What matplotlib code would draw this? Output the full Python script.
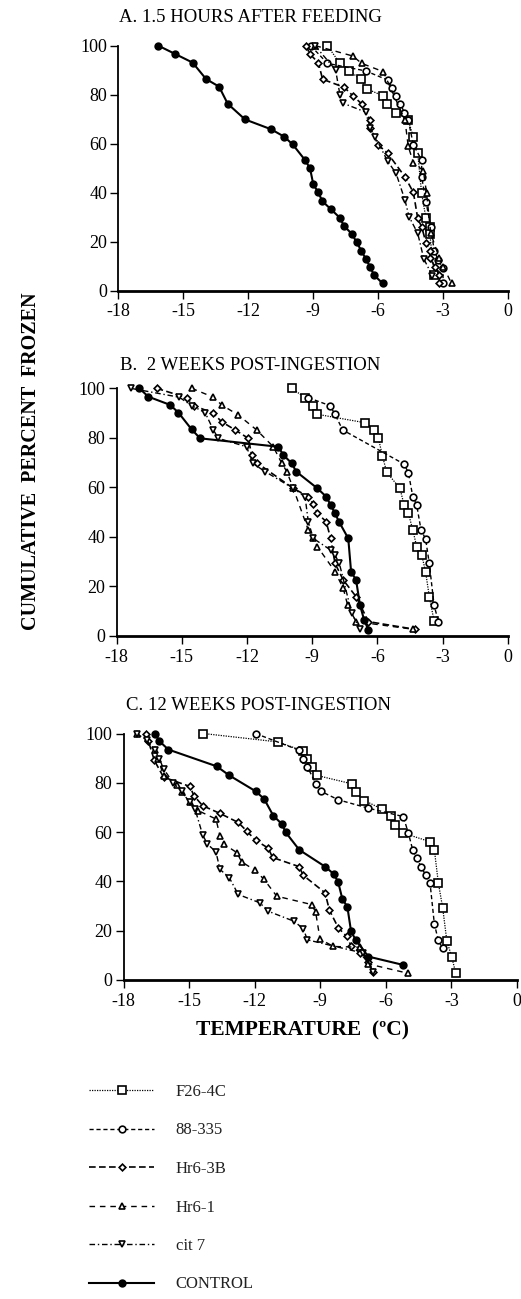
import matplotlib

matplotlib.use("Agg")
import matplotlib.pyplot as plt

plt.rcParams["font.family"] = ["Liberation Serif", "DejaVu Serif"]
plt.rcParams["axes.unicode_minus"] = False

# ---- panel A: 1.5 hours after feeding (temperature degC, cumulative % frozen)
a_f26_t = [-8.35, -7.77, -7.35, -6.8, -6.54, -5.77, -5.58, -5.18, -4.62, -4.38, -4.18, -4.0, -3.8, -3.62, -3.62, -3.42]
a_f26_p = [100, 92.8, 89.7, 86.3, 82.4, 79.5, 76.2, 72.7, 69.7, 62.6, 56.1, 39.7, 29.5, 26.1, 23.1, 6.4]
a_88_t = [-9.12, -8.35, -6.58, -5.57, -5.35, -5.18, -4.98, -4.8, -4.62, -4.38, -4.0, -4.0, -3.8, -3.58, -3.42, -3.23, -3.03, -3.0]
a_88_p = [100, 92.8, 89.7, 86.0, 82.6, 79.5, 76.3, 72.7, 69.7, 59.5, 53.3, 46.5, 36.3, 26.1, 16.3, 12.5, 9.1, 3.0]
a_hr3b_t = [-9.34, -9.15, -8.77, -8.57, -7.57, -7.18, -6.77, -6.38, -6.38, -6.0, -5.57, -4.77, -4.38, -4.18, -4.0, -3.8, -3.62, -3.62, -3.38, -3.18, -3.18]
a_hr3b_p = [100, 96.5, 93.1, 86.3, 83.0, 79.6, 76.3, 69.7, 66.5, 59.5, 56.1, 46.5, 40.1, 29.5, 26.1, 19.6, 16.3, 13.2, 9.8, 6.4, 3.0]
a_hr1_t = [-8.9, -7.18, -6.77, -5.77, -4.77, -4.62, -4.38, -3.92, -3.77, -3.58, -3.18, -3.0, -2.62]
a_hr1_p = [100, 95.8, 92.8, 89.4, 69.7, 59.0, 52.2, 49.0, 39.7, 23.4, 13.2, 9.8, 3.0]
a_cit7_t = [-8.92, -7.97, -7.77, -7.62, -6.58, -6.38, -6.15, -5.57, -5.18, -4.77, -4.58, -4.18, -3.9, -3.5]
a_cit7_p = [100, 90.1, 79.9, 76.5, 72.9, 66.5, 62.9, 52.9, 47.9, 37.0, 30.2, 23.4, 13.0, 6.0]
a_ctrl_t = [-16.15, -15.37, -14.57, -13.95, -13.35, -12.95, -12.15, -10.95, -10.35, -9.95, -9.37, -9.15, -9.0,
            -8.77, -8.58, -8.18, -7.78, -7.58, -7.2, -7.0, -6.78, -6.58, -6.38, -6.2, -5.8]
a_ctrl_p = [100, 96.6, 93.1, 86.4, 83.3, 76.3, 69.9, 65.9, 62.9, 59.7, 53.2, 49.9, 43.4,
            40.1, 36.5, 33.2, 29.8, 26.4, 23.0, 19.7, 16.3, 13.0, 9.8, 6.4, 3.0]

# ---- panel B: 2 weeks post-ingestion
b_f26_t = [-9.94, -9.33, -8.95, -8.76, -6.57, -6.15, -5.95, -5.77, -5.57, -4.96, -4.77, -4.57, -4.37, -4.19, -3.96, -3.78, -3.61, -3.39]
b_f26_p = [100, 96.2, 93.0, 89.5, 86.1, 83.2, 79.8, 72.8, 66.1, 59.6, 52.9, 49.5, 42.8, 36.1, 32.7, 26.0, 15.9, 6.1]
b_88_t = [-9.18, -8.18, -7.95, -7.6, -4.77, -4.57, -4.37, -4.19, -3.99, -3.78, -3.61, -3.39, -3.19]
b_88_p = [96.2, 93.0, 89.5, 83.2, 69.4, 65.9, 56.3, 52.9, 42.8, 39.2, 29.3, 12.5, 5.8]
b_hr3b_t = [-16.16, -14.78, -14.44, -13.55, -13.17, -12.55, -11.94, -11.79, -11.56, -9.87, -9.18, -8.95, -8.76, -8.36, -8.15, -7.95, -7.57, -6.98, -6.41, -4.27]
b_hr3b_p = [100, 96.2, 93.0, 89.9, 86.5, 83.2, 79.8, 73.1, 70.0, 59.6, 56.3, 53.3, 49.5, 46.2, 39.4, 29.3, 22.6, 15.9, 5.8, 2.7]
b_hr1_t = [-14.55, -13.55, -13.17, -12.4, -11.56, -10.79, -10.4, -10.17, -9.87, -9.18, -8.95, -8.76, -7.95, -7.57, -7.37, -6.98, -4.34]
b_hr1_p = [100, 96.4, 93.3, 89.2, 83.2, 76.4, 69.7, 66.4, 59.6, 42.8, 39.4, 36.1, 26.0, 19.2, 12.5, 5.8, 2.7]
b_cit7_t = [-17.36, -15.12, -14.55, -13.93, -13.55, -13.32, -12.02, -11.74, -11.17, -9.87, -9.33, -9.18, -8.95, -8.15, -7.95, -7.75, -7.18, -6.8]
b_cit7_p = [100, 96.4, 93.0, 90.2, 83.2, 79.8, 76.4, 69.7, 66.4, 59.6, 56.3, 46.2, 39.4, 34.7, 32.7, 29.3, 9.2, 2.7]
b_ctrl_t = [-16.96, -16.54, -15.54, -15.16, -14.55, -14.16, -10.56, -10.33, -9.94, -9.74, -8.76, -8.36, -8.15, -7.95, -7.77, -7.34, -7.21, -6.98, -6.8, -6.61, -6.41]
b_ctrl_p = [100, 96.6, 93.3, 90.2, 83.4, 79.8, 76.4, 73.1, 69.7, 66.4, 59.6, 56.3, 52.9, 49.5, 46.2, 39.4, 26.0, 22.6, 12.5, 6.5, 2.4]

# ---- panel C: 12 weeks post-ingestion
c_f26_t = [-14.35, -10.95, -9.77, -9.59, -9.36, -9.16, -7.56, -7.36, -6.98, -6.19, -5.78, -5.58, -5.2, -3.98, -3.78, -3.6, -3.4, -3.21, -2.99, -2.8]
c_f26_p = [100, 96.6, 92.9, 89.8, 86.4, 83.0, 79.6, 76.2, 72.8, 69.4, 66.4, 63.0, 59.6, 56.1, 52.8, 39.5, 29.3, 15.9, 9.5, 2.7]
c_88_t = [-11.96, -9.96, -9.77, -9.59, -9.19, -8.96, -8.17, -6.8, -5.2, -4.97, -4.77, -4.59, -4.39, -4.18, -3.98, -3.78, -3.6, -3.4]
c_88_p = [100, 93.2, 89.8, 86.4, 79.6, 76.5, 73.1, 69.7, 66.3, 59.6, 52.8, 49.4, 46.0, 42.6, 39.5, 22.7, 16.1, 12.9]
c_hr3b_t = [-16.97, -16.86, -16.59, -16.17, -14.96, -14.78, -14.38, -13.59, -12.75, -12.37, -11.96, -11.38, -11.18,
            -9.97, -9.77, -8.78, -8.58, -8.17, -7.79, -7.59, -7.18, -6.8, -6.57]
c_hr3b_p = [100, 96.9, 89.1, 82.3, 78.5, 74.8, 70.7, 67.6, 63.9, 60.5, 56.7, 53.5, 49.7,
            46.0, 42.4, 35.4, 28.3, 21.1, 17.7, 13.9, 10.9, 7.1, 3.1]
c_hr1_t = [-17.4, -16.56, -16.41, -16.17, -15.57, -15.34, -14.96, -14.58, -13.77, -13.59, -13.4, -12.82, -12.59,
           -11.98, -11.57, -10.99, -9.39, -9.21, -9.01, -8.4, -7.18, -6.8, -4.97]
c_hr1_p = [100, 93.5, 89.8, 82.7, 79.2, 76.2, 72.1, 68.7, 65.3, 58.5, 55.1, 51.7, 47.9,
           44.5, 40.8, 34.0, 30.6, 27.5, 16.6, 13.6, 13.3, 6.5, 2.7]
c_cit7_t = [-17.4, -16.94, -16.56, -16.36, -16.17, -15.72, -15.34, -14.96, -14.73, -14.38, -14.16, -13.77, -13.59,
            -13.16, -12.75, -11.76, -11.38, -10.19, -9.77, -9.59, -7.03, -6.57]
c_cit7_p = [100, 97.3, 93.2, 89.8, 85.7, 79.9, 76.5, 72.1, 69.4, 58.9, 55.1, 52.0, 44.9,
            41.5, 34.7, 31.3, 27.9, 23.8, 20.7, 16.3, 10.9, 3.4]
c_ctrl_t = [-16.56, -16.36, -15.95, -13.74, -13.16, -11.96, -11.57, -11.15, -10.76, -10.58, -9.96, -8.78, -8.37,
            -8.18, -7.99, -7.76, -7.59, -7.38, -6.8, -5.2]
c_ctrl_p = [100, 96.9, 93.5, 86.7, 83.0, 76.6, 73.5, 66.7, 63.3, 59.9, 52.8, 46.0, 42.9,
            39.7, 32.9, 29.7, 19.7, 16.3, 9.5, 6.1]

series_labels = ["F26-4C", "88-335", "Hr6-3B", "Hr6-1", "cit 7", "CONTROL"]
panel_titles = ["A. 1.5 HOURS AFTER FEEDING", "B.  2 WEEKS POST-INGESTION", "C. 12 WEEKS POST-INGESTION"]
x_ticks = [-18, -15, -12, -9, -6, -3, 0]
y_ticks = [0, 20, 40, 60, 80, 100]

panels = [
    [(a_f26_t, a_f26_p), (a_88_t, a_88_p), (a_hr3b_t, a_hr3b_p), (a_hr1_t, a_hr1_p), (a_cit7_t, a_cit7_p), (a_ctrl_t, a_ctrl_p)],
    [(b_f26_t, b_f26_p), (b_88_t, b_88_p), (b_hr3b_t, b_hr3b_p), (b_hr1_t, b_hr1_p), (b_cit7_t, b_cit7_p), (b_ctrl_t, b_ctrl_p)],
    [(c_f26_t, c_f26_p), (c_88_t, c_88_p), (c_hr3b_t, c_hr3b_p), (c_hr1_t, c_hr1_p), (c_cit7_t, c_cit7_p), (c_ctrl_t, c_ctrl_p)],
]

styles = [
    dict(ls=(0, (1, 1)), lw=0.9, marker="s", ms=5.2, mfc="white"),
    dict(ls=(0, (3, 2)), lw=1.0, marker="o", ms=4.8, mfc="white"),
    dict(ls=(0, (4, 2)), lw=1.2, marker="D", ms=3.4, mfc="white"),
    dict(ls=(0, (4, 3.5)), lw=1.0, marker="^", ms=5.0, mfc="white"),
    dict(ls=(0, (4, 2, 1, 2)), lw=1.0, marker="v", ms=5.0, mfc="white"),
    dict(ls="-", lw=1.5, marker="o", ms=4.8, mfc="black"),
]

W, H = 521, 1299
# axes boxes in pixels: left, right, top (y=100), bottom (y=0)
boxes = [(118.3, 508.3, 45.7, 290.7), (116.7, 507.7, 388.3, 636.0), (123.5, 517.0, 733.5, 980.0)]
title_pos = [(119, 18), (120, 366), (126, 706)]

fig = plt.figure(figsize=(W / 100, H / 100), dpi=100)

handles = []
for k, (box, series) in enumerate(zip(boxes, panels)):
    l, r, t, b = box
    ax = fig.add_axes([l / W, 1 - b / H, (r - l) / W, (b - t) / H])
    for j, ((temp, pct), st) in enumerate(zip(series, styles)):
        line, = ax.plot(temp, pct, color="black", mec="black", mew=1.2,
                        clip_on=False, label=series_labels[j], **st)
        if k == 0:
            handles.append(line)
    ax.set_xlim(-18, 0)
    ax.set_ylim(0, 100)
    ax.set_xticks(x_ticks)
    ax.set_yticks(y_ticks)
    for side in ("top", "right"):
        ax.spines[side].set_visible(False)
    ax.spines["bottom"].set_linewidth(2.0)
    ax.spines["left"].set_linewidth(1.3)
    ax.tick_params(axis="both", direction="out", length=6, width=1.0, labelsize=13, pad=2)
    ax.tick_params(axis="x", pad=3)
    fig.text(title_pos[k][0] / W, 1 - title_pos[k][1] / H, panel_titles[k],
             ha="left", va="center", fontsize=13.5)

fig.text(31 / W, 1 - 461 / H, "CUMULATIVE  PERCENT  FROZEN", rotation=90,
         ha="center", va="center", fontsize=14.5, fontweight="bold")
fig.text(303 / W, 1 - 1030 / H, "TEMPERATURE  (\u00baC)", ha="center", va="center",
         fontsize=15.5, fontweight="bold")

fig.legend(handles=handles, loc="upper left", bbox_to_anchor=(89 / W, 1 - 1084 / H),
           frameon=False, fontsize=12, numpoints=1, handlelength=3.9, handletextpad=1.3,
           labelspacing=1.35, borderpad=0, borderaxespad=0, labelcolor="#222222")

fig.savefig("out.png", dpi=100)
